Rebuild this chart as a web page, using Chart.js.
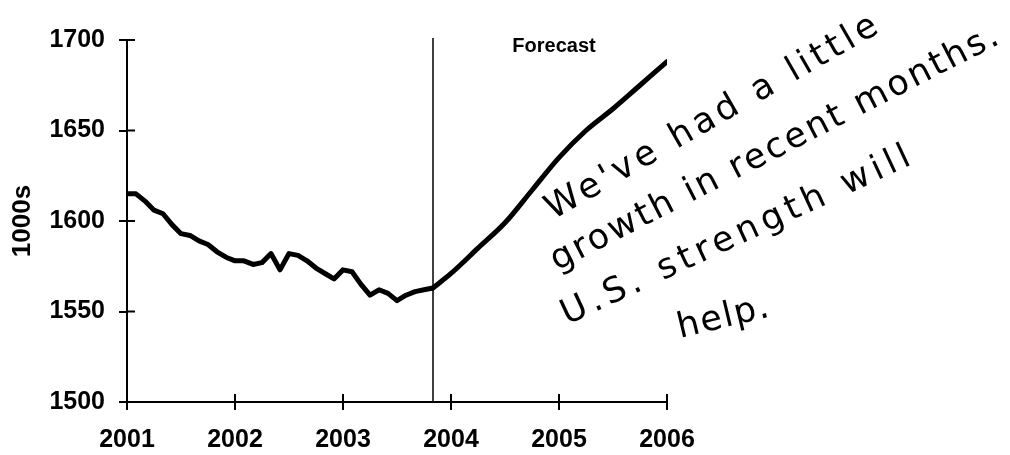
<!DOCTYPE html>
<html>
<head>
<meta charset="utf-8">
<script src="https://cdn.jsdelivr.net/npm/chart.js@4/dist/chart.umd.min.js"></script>
<style>
  html, body { margin: 0; padding: 0; background: #fff; }
  #wrap { width: 1010px; height: 455px; }
</style>
</head>
<body>
<div id="wrap"><canvas id="sysselsatte" width="1010" height="455"></canvas></div>
<script>
// Data lest av bildet (1000s), maaned 0 = jan 2001
var startAar = 2001;
var faktiskeMnd = [0,1,2,3,4,5,6,7,8,9,10,11,12,13,14,15,16,17,18,19,20,21,22,23,24,25,26,27,28,29,30,31,32,33,34];
var faktiskeVerdier = [1615,1615,1611,1606,1604,1598,1593,1592,1589,1587,1583,1580,
                       1578,1578,1576,1577,1582,1573,1582,1581,1578,1574,1571,1568,
                       1573,1572,1565,1559,1562,1560,1556,1559,1561,1562,1563];
var prognoseMnd = [34,36,39,42,45,48,51,54,57,60];
var prognoseVerdier = [1563,1571,1585,1599,1617,1635,1650,1662,1675,1688];
var aarTicks = [2001,2002,2003,2004,2005,2006];
var verdiTicks = [1500,1550,1600,1650,1700];
var prognoseTekst = "Forecast";
var merknad = ["We've had a little", "growth in recent months.", "U.S. strength will", "help."];
// start og slutt for hver haandskrevne linje (piksler)
var merknadLinjer = [
  [553, 220, 884, 30],
  [557, 271, 1003, 42],
  [567, 325, 917, 162],
  [680, 338, 772, 316]
];

function punkter(mnd, verdier){
  return mnd.map(function(m, i){ return {x: startAar + m/12, y: verdier[i]}; });
}

var fet = {family: "'Liberation Sans', Arial, sans-serif", size: 25, weight: "bold"};

// tick-streker paa innsiden av aksene + loddrett strek + tekst
var ekstra = {
  id: "ekstra",
  afterDraw: function(chart){
    var ctx = chart.ctx;
    var xs = chart.scales.x, ys = chart.scales.y;
    var a = chart.chartArea;
    ctx.save();
    ctx.strokeStyle = "#000";
    ctx.lineWidth = 2;
    ctx.beginPath();
    xs.ticks.forEach(function(t){
      var px = xs.getPixelForValue(t.value);
      ctx.moveTo(px, a.bottom); ctx.lineTo(px, a.bottom - 8);
    });
    ys.ticks.forEach(function(t){
      var py = ys.getPixelForValue(t.value);
      ctx.moveTo(a.left, py); ctx.lineTo(a.left + 8, py);
    });
    ctx.stroke();

    // skille mellom faktisk og prognose
    var sx = xs.getPixelForValue(startAar + prognoseMnd[0]/12);
    ctx.lineWidth = 1.5;
    ctx.beginPath();
    ctx.moveTo(sx, a.top - 2); ctx.lineTo(sx, a.bottom);
    ctx.stroke();

    ctx.fillStyle = "#000";
    ctx.font = "bold 20px 'Liberation Sans', Arial, sans-serif";
    ctx.textAlign = "center";
    ctx.textBaseline = "middle";
    ctx.fillText(prognoseTekst, (sx + a.right)/2 + 4, a.top + 6);

    // haandskrevet merknad
    ctx.textAlign = "left";
    ctx.textBaseline = "alphabetic";
    ctx.font = "35px 'DejaVu Sans'";
    merknad.forEach(function(tekst, i){
      var l = merknadLinjer[i];
      var vinkel = Math.atan2(l[3]-l[1], l[2]-l[0]);
      var lengde = Math.hypot(l[3]-l[1], l[2]-l[0]);
      ctx.letterSpacing = "0px";
      var b = ctx.measureText(tekst).width;
      ctx.letterSpacing = Math.max(0, (lengde - b) / tekst.length).toFixed(2) + "px";
      ctx.save();
      ctx.translate(l[0], l[1]);
      ctx.rotate(vinkel);
      ctx.fillText(tekst, 0, 0);
      ctx.restore();
    });
    ctx.restore();
  }
};

new Chart("sysselsatte", {
  type: "line",
  data: {
    datasets: [{
      data: punkter(faktiskeMnd, faktiskeVerdier),
      borderColor: "#000",
      borderWidth: 5,
      pointRadius: 0,
      tension: 0,
      borderJoinStyle: "round"
    }, {
      data: punkter(prognoseMnd, prognoseVerdier),
      borderColor: "#000",
      borderWidth: 5,
      pointRadius: 0,
      cubicInterpolationMode: "monotone",
      borderCapStyle: "round"
    }]
  },
  plugins: [ekstra],
  options: {
    responsive: false,
    animation: false,
    devicePixelRatio: 1,
    layout: {padding: {top: 40, right: 343, left: 0, bottom: 0}},
    plugins: {legend: {display: false}, tooltip: {enabled: false}},
    scales: {
      x: {
        type: "linear",
        min: 2001,
        max: 2006,
        afterBuildTicks: function(s){ s.ticks = aarTicks.map(function(v){ return {value: v}; }); },
        afterFit: function(s){ s.height = 53; },
        border: {color: "#000", width: 2},
        grid: {drawOnChartArea: false, color: "#000", lineWidth: 2, tickLength: 8},
        ticks: {color: "#000", font: fet, padding: 15, maxRotation: 0,
                callback: function(v){ return String(v); }}
      },
      y: {
        min: 1500,
        max: 1700,
        afterBuildTicks: function(s){ s.ticks = verdiTicks.map(function(v){ return {value: v}; }); },
        afterFit: function(s){ s.width = 127; },
        border: {color: "#000", width: 2},
        grid: {drawOnChartArea: false, color: "#000", lineWidth: 2, tickLength: 8},
        ticks: {color: "#000", font: fet, padding: 14,
                callback: function(v){ return String(v); }},
        title: {display: true, text: "1000s", color: "#000",
                font: {family: fet.family, size: 26, weight: "bold"}, padding: {top: 7, bottom: 0}}
      }
    }
  }
});
</script>
</body>
</html>
